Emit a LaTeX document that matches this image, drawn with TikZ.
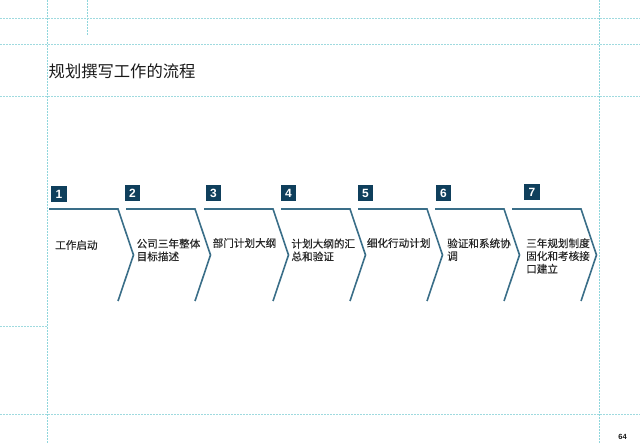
\documentclass[tikz,border=0pt]{standalone}
\usepackage{fontspec}
\setmainfont{Liberation Sans}
\newfontfamily\cjk{Noto Sans CJK SC}
\newfontfamily\cjkheavy[FakeBold=0.3]{Noto Sans CJK SC}
\definecolor{guide}{HTML}{9FDADF}
\definecolor{guidev}{HTML}{8FD6DC}
\definecolor{chev}{HTML}{3A6E88}
\definecolor{numbox}{HTML}{0F3F5C}
\tikzset{
  guideline/.style={guide,line width=1bp,dash pattern=on 2bp off 1bp},
  guidelinev/.style={guidev,line width=1.8bp,dash pattern=on 2bp off 1bp},
  chevron/.style={chev,line width=1.6bp,line join=miter},
  numtag/.style={fill=numbox,text=white,inner sep=0pt,minimum width=15.5bp,minimum height=16bp,font=\fontsize{12}{12}\selectfont\bfseries},
  steptext/.style={anchor=west,align=left,inner sep=0pt,text=black!85,font=\cjkheavy\fontsize{10.6bp}{12.8bp}\selectfont},
  titletext/.style={anchor=west,inner sep=0pt,text=black!90,font=\cjk\fontsize{16.3bp}{16.3bp}\selectfont},
  pagenum/.style={inner sep=0pt,text=black!90,font=\fontsize{7.5}{7.5}\selectfont\bfseries}
}
\begin{document}
\begin{tikzpicture}[x=1bp,y=-1bp]
\useasboundingbox (0,0) rectangle (640,443);
\fill[white] (0,0) rectangle (640,443);
% guides
\draw[guidelinev] (47.5,0) -- (47.5,443);
\draw[guidelinev] (599.5,0) -- (599.5,443);
\draw[guidelinev] (87.5,0) -- (87.5,35);
\draw[guideline] (0,18.5) -- (640,18.5);
\draw[guideline] (0,44.5) -- (640,44.5);
\draw[guideline] (0,96.5) -- (640,96.5);
\draw[guideline] (0,326.5) -- (47.5,326.5);
\draw[guideline] (0,414.5) -- (640,414.5);
% title
\node[titletext] (title) at (48.5,71) {规划撰写工作的流程};
% chevrons
\foreach \n/\x/\w in {1/49/69,2/126/69,3/204/69,4/281/69,5/358/69,6/435/69,7/512/69}{
  \draw[chevron] (\x,209) -- (\x+\w,209) -- (\x+\w+15.5,255) -- (\x+\w,301);
}
% numbers
\node[numtag] (n1) at (59,194) {1};
\node[numtag] (n2) at (132.5,193) {2};
\node[numtag] (n3) at (213.5,193) {3};
\node[numtag] (n4) at (288.5,193) {4};
\node[numtag] (n5) at (365.5,193) {5};
\node[numtag] (n6) at (443.5,193) {6};
\node[numtag] (n7) at (532,192.5) {7};
% texts
\node[steptext] (t1) at (55,245) {工作启动};
\node[steptext] (t2) at (136.5,250) {公司三年整体\\目标描述};
\node[steptext] (t3) at (212.5,243) {部门计划大纲};
\node[steptext] (t4) at (291.3,250) {计划大纲的汇\\总和验证};
\node[steptext] (t5) at (366.7,243) {细化行动计划};
\node[steptext] (t6) at (447,249.7) {验证和系统协\\调};
\node[steptext] (t7) at (526,256) {三年规划制度\\固化和考核接\\口建立};
\node[pagenum] (pg) at (622.5,437) {64};
\end{tikzpicture}
\end{document}
